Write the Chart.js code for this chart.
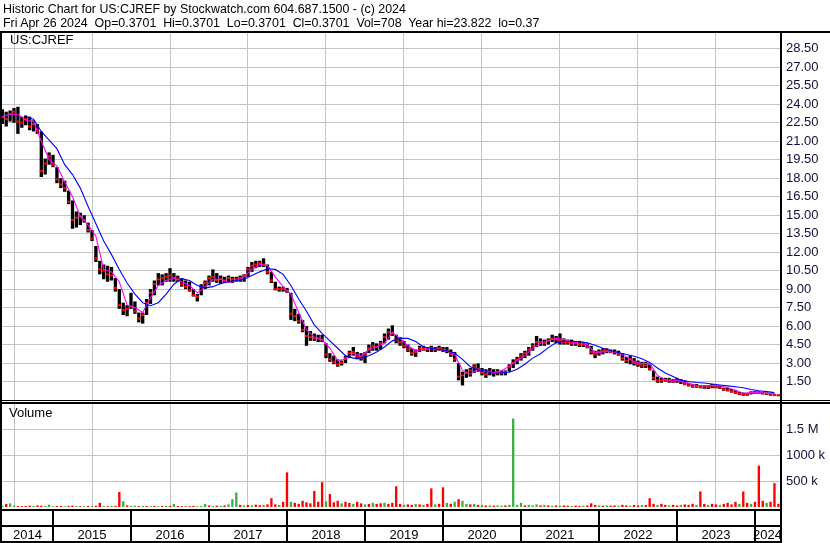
<!DOCTYPE html>
<html><head><meta charset="utf-8">
<script src="https://cdn.jsdelivr.net/npm/chart.js@4.4.1/dist/chart.umd.min.js"></script>
<style>
html,body{margin:0;padding:0;background:#fff;}
#wrap{position:relative;width:830px;height:543px;overflow:hidden;font-family:"Liberation Sans",Arial,sans-serif;}
canvas{position:absolute;left:0;top:0;}
.t{position:absolute;white-space:pre;font-size:13px;color:#000;line-height:14px;}
.h{font-size:12.4px;}
</style></head><body>
<div id="wrap">
<canvas id="c" width="830" height="543"></canvas>
<div class="t h" style="left:3px;top:2px">Historic Chart for US:CJREF by Stockwatch.com 604.687.1500 - (c) 2024</div>
<div class="t h" style="left:3px;top:16px">Fri Apr 26 2024  Op=0.3701  Hi=0.3701  Lo=0.3701  Cl=0.3701  Vol=708  Year hi=23.822  lo=0.37</div>
<div class="t" style="left:10px;top:33px">US:CJREF</div>
<div class="t" style="left:9px;top:406px">Volume</div>
</div>
<script>
// ---- data ----
const years = ["2014","2015","2016","2017","2018","2019","2020","2021","2022","2023","2024"];
const yearBounds = [2015,2016,2017,2018,2019,2020,2021,2022,2023,2024];
const xMin = 2014.346, xMax = 2024.321;
const priceTicks = [1.5,3,4.5,6,7.5,9,10.5,12,13.5,15,16.5,18,19.5,21,22.5,24,25.5,27,28.5];
const volTicks = [500,1000,1500];
const volTickLabels = ["500 k","1000 k","1.5 M"];
const barStart = 2014.35, barStep = 0.05;   // ~2.6-week bars
const maStart = 2014.35, maStep = 0.1;

const hi = [23.6,23.4,23.5,23.7,23.8,23.0,23.1,23.0,22.7,22.4,
 21.8,19.6,20.1,19.9,18.9,18.0,17.8,17.0,16.2,15.3,
 15.2,15.0,14.4,13.8,12.5,11.3,11.0,10.9,10.8,9.9,
 9.0,7.9,7.7,8.7,8.0,7.1,7.1,8.2,9.0,9.7,
 10.3,10.2,10.3,10.7,10.3,10.1,9.9,9.7,9.6,9.0,
 8.6,9.4,9.7,10.1,10.6,10.3,10.1,10.0,10.1,10.0,
 10.0,10.1,10.2,10.8,11.2,11.3,11.3,11.5,11.0,10.4,
 9.6,9.2,9.2,9.1,8.7,7.4,7.0,6.5,6.0,5.6,
 5.4,5.3,5.3,4.6,3.8,3.6,3.3,3.2,3.6,4.0,
 4.3,3.9,3.8,3.9,4.5,4.7,4.6,4.8,5.4,5.8,
 6.06,5.3,5.1,4.8,4.5,4.2,4.1,4.4,4.4,4.3,
 4.4,4.3,4.4,4.3,4.3,4.1,3.9,3.0,2.3,2.5,
 2.6,2.9,2.97,2.6,2.5,2.6,2.5,2.5,2.4,2.4,
 2.9,3.3,3.5,3.8,4.0,4.3,4.6,5.2,5.0,4.9,
 5.0,5.3,5.2,5.4,5.0,4.9,4.9,4.8,4.8,4.7,
 4.6,4.4,4.0,4.1,4.2,4.2,4.1,4.1,4.0,3.8,
 3.5,3.6,3.4,3.2,3.1,3.1,2.9,2.4,1.9,1.8,
 1.8,1.8,1.7,1.8,1.7,1.6,1.4,1.3,1.3,1.2,
 1.2,1.2,1.3,1.2,1.15,1.0,1.0,0.9,0.8,0.65,
 0.6,0.55,0.7,0.72,0.7,0.65,0.6,0.55,0.5,0.45];
const lo = [22.4,22.2,22.6,22.5,21.6,22.1,22.3,21.9,21.8,21.6,
 18.1,18.3,19.1,18.9,17.6,17.2,16.9,15.9,13.9,14.0,
 14.2,14.4,13.6,12.9,11.2,10.2,9.8,9.6,9.7,8.8,
 7.4,6.9,6.8,7.4,7.0,6.3,6.2,6.9,7.8,8.5,
 9.3,9.3,9.6,9.6,9.6,9.6,9.2,9.0,8.8,8.4,
 8.0,8.5,9.0,9.3,9.6,9.5,9.4,9.5,9.6,9.5,
 9.6,9.6,9.6,10.0,10.4,10.7,10.8,10.8,10.2,9.5,
 8.9,8.8,8.8,8.7,6.5,6.4,6.2,5.5,4.4,4.8,
 4.8,4.7,4.7,3.4,3.1,2.9,2.7,2.8,3.0,3.4,
 3.6,3.3,3.2,3.0,3.8,4.0,4.0,4.1,4.6,4.9,
 5.2,4.6,4.4,4.2,3.9,3.6,3.5,3.9,4.0,3.9,
 3.9,3.9,4.0,3.9,3.8,3.5,3.1,1.6,1.18,1.8,
 1.9,2.2,2.3,2.0,1.8,2.0,1.9,2.0,2.0,2.0,
 2.3,2.6,2.9,3.2,3.4,3.6,4.0,4.3,4.4,4.4,
 4.5,4.7,4.6,4.5,4.5,4.5,4.4,4.4,4.3,4.3,
 4.2,3.7,3.4,3.6,3.7,3.8,3.8,3.7,3.6,3.2,
 3.0,2.9,2.8,2.7,2.6,2.6,2.4,1.6,1.4,1.4,
 1.5,1.4,1.4,1.4,1.3,1.2,1.1,1.0,1.0,0.95,
 0.9,0.9,0.95,0.95,0.9,0.75,0.7,0.6,0.5,0.4,
 0.35,0.35,0.45,0.5,0.5,0.45,0.4,0.35,0.35,0.33];
const close = [23.0,22.8,23.2,23.4,22.6,22.5,22.8,22.2,22.4,21.9,
 18.6,19.2,19.8,19.1,17.9,17.5,17.2,16.1,14.6,14.8,
 14.9,14.6,13.8,13.1,11.5,10.6,10.5,10.2,10.1,9.1,
 7.7,7.3,7.4,7.6,7.2,6.6,6.9,7.9,8.7,9.4,
 9.8,9.9,10.0,10.1,9.9,9.8,9.4,9.2,8.9,8.5,
 8.4,9.2,9.5,9.9,10.0,9.7,9.8,9.7,9.9,9.8,
 9.8,9.9,10.1,10.6,10.9,11.0,11.1,11.0,10.4,9.7,
 9.0,9.0,9.0,8.8,7.0,6.8,6.4,5.7,5.2,5.1,
 5.0,5.0,4.9,3.7,3.3,3.1,2.9,3.0,3.4,3.8,
 3.9,3.5,3.4,3.7,4.2,4.4,4.3,4.6,5.1,5.5,
 5.4,4.9,4.7,4.4,4.1,3.8,3.9,4.2,4.2,4.1,
 4.2,4.1,4.2,4.1,4.0,3.7,3.3,1.9,2.0,2.2,
 2.4,2.7,2.5,2.2,2.1,2.3,2.2,2.3,2.2,2.3,
 2.7,3.0,3.3,3.6,3.8,4.1,4.4,4.7,4.7,4.6,
 4.8,5.0,4.9,4.8,4.7,4.7,4.6,4.6,4.5,4.5,
 4.3,3.9,3.7,3.9,4.0,4.0,3.9,3.9,3.7,3.4,
 3.2,3.3,3.0,2.9,2.8,2.8,2.5,1.8,1.6,1.6,
 1.6,1.6,1.5,1.6,1.5,1.3,1.2,1.1,1.1,1.05,
 1.0,1.05,1.1,1.05,1.0,0.85,0.8,0.7,0.6,0.5,
 0.45,0.45,0.6,0.6,0.6,0.55,0.5,0.45,0.4,0.37];
const vol = [20,60,70,25,20,15,20,25,20,30,
 25,20,45,15,20,20,15,20,25,20,
 15,15,20,15,25,80,20,15,20,20,
 290,110,30,20,25,15,20,20,15,20,
 15,20,25,20,60,20,15,20,15,20,
 15,20,60,30,20,25,20,30,50,150,
 280,40,30,40,30,45,35,40,50,170,
 50,40,100,670,100,80,60,120,90,70,
 310,100,480,110,250,90,120,70,100,80,
 60,100,70,50,60,80,60,70,80,60,
 80,400,60,40,50,40,60,50,40,60,
 360,50,60,380,80,60,100,150,120,60,
 50,60,40,40,30,30,25,30,25,30,
 40,1710,40,80,30,40,30,50,30,40,
 30,25,30,25,30,25,20,25,20,25,
 30,70,40,30,25,30,25,30,25,40,
 30,25,40,30,35,40,170,60,40,60,
 40,30,40,30,40,50,40,60,40,300,
 60,40,60,50,40,60,80,50,100,60,
 300,80,60,100,800,120,80,100,460,60];
const volColor = "grggrrrrgr"+"rgggrrgrrg"+"rgrgrrgrgr"+"rgrggrgrgr"+"grgrgrrgrr"+
 "gggrgrgrgg"+"grgrgrrgrr"+"rgrrgrrrrr"+"rrrgrrrgrr"+"grrgrgrrgr"+
 "rrrgrrgrgr"+"rgrrgrgrgg"+"rgrgrgrggr"+"ggggrgggrg"+"rgrgrrgrrg"+
 "rrrgrgrrgr"+"rgrrgrrrgr"+"rgrrgrrrgr"+"rgrrgrrrrg"+"rrgrrrgrrr";
const maShort = [23.0,23.2,23.2,22.7,22.6,21.0,19.5,19.0,17.7,16.5,
 14.9,14.2,13.3,10.6,10.4,9.6,7.7,7.5,7.1,8.3,
 9.3,9.7,9.9,9.6,9.3,8.7,9.2,9.8,9.8,9.55,
 9.65,10.0,10.6,11.0,10.9,10.0,9.2,8.6,7.1,5.7,
 5.1,4.9,4.2,3.2,3.3,3.8,3.55,4.1,4.35,4.6,
 5.5,5.0,4.4,4.0,4.1,4.2,4.1,4.0,3.7,2.4,
 2.1,2.5,2.3,2.2,2.35,2.75,3.2,3.6,4.2,4.6,
 4.85,5.0,4.9,4.7,4.6,4.5,3.85,3.9,3.95,3.85,
 3.5,3.1,2.95,2.95,2.0,1.65,1.6,1.55,1.35,1.2,
 1.15,1.2,1.15,1.0,0.8,0.55,0.6,0.6,0.55,0.5];
const maLongOffset = 3;
const maLong = [23.0,22.8,21.8,21.1,20.4,19.1,18.3,17.2,15.7,14.3,
 12.9,11.8,10.6,9.5,8.6,7.9,7.65,7.9,8.6,9.4,
 9.85,9.7,9.3,9.1,9.2,9.45,9.6,9.7,9.8,10.1,
 10.4,10.65,10.6,10.2,9.3,8.2,7.2,6.1,5.4,4.8,
 4.2,3.6,3.4,3.4,3.6,3.9,4.3,4.8,5.0,5.0,
 4.75,4.3,4.2,4.1,4.0,3.8,3.3,2.7,2.45,2.35,
 2.15,2.2,2.25,2.5,2.9,3.4,3.75,4.25,4.65,4.75,
 4.75,4.75,4.65,4.45,4.2,4.0,3.85,3.7,3.55,3.35,
 3.05,2.6,2.2,1.9,1.6,1.5,1.42,1.38,1.3,1.22,
 1.15,1.08,1.0,0.85,0.75,0.68,0.6];

// ---- build ----
const FONT = "'Liberation Sans', Arial, sans-serif";
const barDates = hi.map((_, i) => +(barStart + barStep * i).toFixed(3));
const maDates = maShort.map((_, k) => +(maStart + maStep * k).toFixed(3));
const GREEN = '#3cb043', RED = '#ff0000';

const frame = {
  id: 'frame',
  afterDraw(chart) {
    const ctx = chart.ctx, a = chart.chartArea, xs = chart.scales.x, yp = chart.scales.yP;
    ctx.save();
    ctx.fillStyle = '#000';
    ctx.fillRect(0, 31, 830, 2);                 // top frame
    ctx.fillRect(0, 31, 2, 512);                 // left frame
    ctx.fillRect(a.right, 31, 2, 512);           // plot/axis divider
    const yb = Math.round(yp.bottom);
    ctx.fillRect(0, yb, 830, 1);                 // price panel bottom
    ctx.fillRect(0, yb + 2, 830, 2);             // volume panel top
    const b = Math.round(a.bottom);
    ctx.fillRect(0, b + 1, a.right + 2, 2);
    ctx.fillRect(0, b + 17, a.right + 2, 2);
    ctx.fillRect(0, 541, a.right + 2, 2);
    yearBounds.forEach(v => {
      const px = Math.round(xs.getPixelForValue(v));
      ctx.fillRect(px - 1, b + 1, 2, 542 - b);
    });
    ctx.restore();
  }
};

new Chart(document.getElementById('c'), {
  type: 'bar',
  data: {
    datasets: [
      { type: 'line', label: 'long MA', yAxisID: 'yP', xAxisID: 'x',
        data: maLong.map((v, k) => ({ x: maDates[k + maLongOffset], y: v })),
        borderColor: '#0000ff', borderWidth: 1.1, pointRadius: 0, tension: 0 },
      { type: 'line', label: 'short MA', yAxisID: 'yP', xAxisID: 'x',
        data: maShort.map((v, k) => ({ x: maDates[k], y: v })),
        borderColor: '#ff00ff', borderWidth: 1.1, pointRadius: 0, tension: 0 },
      { type: 'line', label: 'close', yAxisID: 'yP', xAxisID: 'x', showLine: false,
        data: close.map((v, i) => ({ x: barDates[i], y: v })),
        pointStyle: 'line', pointRadius: 1.6, borderColor: RED, borderWidth: 2 },
      { type: 'bar', label: 'range', yAxisID: 'yP', xAxisID: 'x', grouped: false,
        data: hi.map((h, i) => ({ x: barDates[i], y: [lo[i], h] })),
        backgroundColor: '#000', categoryPercentage: 1, barPercentage: 0.85 },
      { type: 'bar', label: 'volume', yAxisID: 'yV', xAxisID: 'x', grouped: false,
        data: vol.map((v, i) => ({ x: barDates[i], y: v })),
        backgroundColor: vol.map((_, i) => volColor[i] === 'g' ? GREEN : RED),
        categoryPercentage: 1, barPercentage: 0.6 }
    ]
  },
  options: {
    responsive: false, animation: false, devicePixelRatio: 1,
    layout: { autoPadding: false, padding: { top: 33, left: 2, right: 0, bottom: 0 } },
    plugins: { legend: { display: false }, tooltip: { enabled: false } },
    scales: {
      x: { type: 'linear', min: xMin, max: xMax, offset: false, position: 'bottom',
        afterBuildTicks: s => { s.ticks = yearBounds.map(v => ({ value: v })); },
        afterFit: s => { s.height = 0; },
        ticks: { display: false, padding: 0 },
        grid: { color: '#c4c4c4', drawTicks: false, lineWidth: 1 },
        border: { display: false } },
      xYear: { type: 'linear', min: xMin, max: xMax, offset: false, position: 'bottom',
        afterBuildTicks: s => {
          const b = [xMin, ...yearBounds, xMax];
          s.ticks = years.map((y, i) => ({ value: (b[i] + b[i + 1]) / 2 }));
        },
        afterFit: s => { s.height = 35; s.paddingLeft = 0; s.paddingRight = 0; },
        ticks: { autoSkip: false, maxRotation: 0, minRotation: 0, padding: 0, color: '#000',
          font: { size: 13, family: FONT }, callback: (v, i) => years[i] },
        grid: { display: true, drawOnChartArea: false, drawTicks: true, tickLength: 20,
          tickColor: 'rgba(0,0,0,0)', color: 'rgba(0,0,0,0)' },
        border: { display: false } },
      yP: { type: 'linear', position: 'right', stack: 'panels', stackWeight: 367, weight: 0,
        min: 0, max: 29.79,
        afterBuildTicks: s => { s.ticks = priceTicks.map(v => ({ value: v })); },
        afterFit: s => { s.width = 50; },
        ticks: { autoSkip: false, padding: 6, color: '#10103c',
          font: { size: 13, family: FONT }, callback: v => Number(v).toFixed(2) },
        grid: { color: '#c4c4c4', drawTicks: false },
        border: { display: false } },
      yV: { type: 'linear', position: 'right', stack: 'panels', stackWeight: 108, weight: 1,
        min: -20, max: 2070,
        afterBuildTicks: s => { s.ticks = volTicks.map(v => ({ value: v })); },
        afterFit: s => { s.width = 50; },
        ticks: { autoSkip: false, padding: 6, color: '#10103c',
          font: { size: 13, family: FONT }, callback: (v, i) => volTickLabels[i] },
        grid: { color: '#c4c4c4', drawTicks: false },
        border: { display: false } }
    }
  },
  plugins: [frame]
});
</script>
</body></html>
